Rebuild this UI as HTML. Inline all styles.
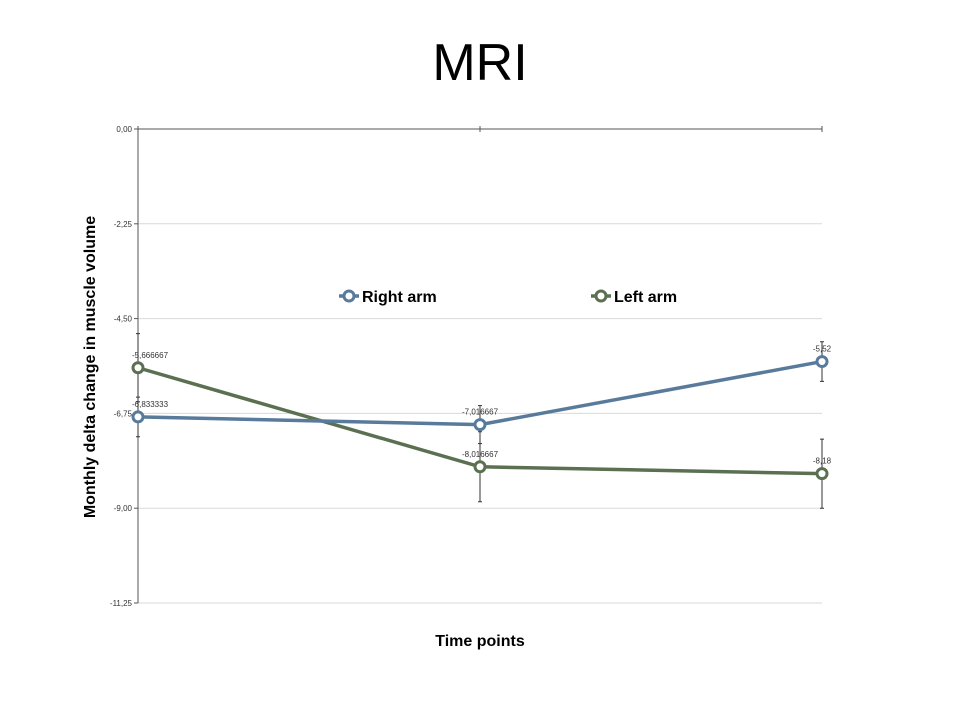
<!DOCTYPE html>
<html><head><meta charset="utf-8"><style>
body{margin:0;background:#fff;}
svg{display:block;font-family:"Liberation Sans",Arial,sans-serif;}
</style></head><body>
<svg width="960" height="720" id="chart">
<text x="480" y="80" text-anchor="middle" font-size="52">MRI</text>
<g id="grid"></g><g id="series"></g>
<text transform="translate(95,367) rotate(-90)" text-anchor="middle" font-size="16" font-weight="bold">Monthly delta change in muscle volume</text>
<text x="480" y="646" text-anchor="middle" font-size="16" font-weight="bold">Time points</text>
<g>
<g>
<line x1="339" y1="296" x2="359" y2="296" stroke="#587b9c" stroke-width="3.5"/>
<circle cx="349" cy="296" r="5" fill="#fff" stroke="#587b9c" stroke-width="3"/>
<text x="362" y="302" font-size="16" font-weight="bold">Right arm</text></g>
<g>
<line x1="591" y1="296" x2="611" y2="296" stroke="#5a7050" stroke-width="3.5"/>
<circle cx="601" cy="296" r="5" fill="#fff" stroke="#5a7050" stroke-width="3"/>
<text x="614" y="302" font-size="16" font-weight="bold">Left arm</text></g>
</g>
</svg>
<script>
const categories=["T1","T2","T3"];
const rightArm=[-6.833333,-7.016667,-5.52];
const leftArm=[-5.666667,-8.016667,-8.18];
const rightErr=[0.47,0.45,0.47];
const leftErr=[0.81,0.83,0.82];
const rightLabels=["-6,833333","-7,016667","-5,52"];
const leftLabels=["-5,666667","-8,016667","-8,18"];
const yTicks=[0,-2.25,-4.5,-6.75,-9,-11.25];
const yTickLabels=["0,00","-2,25","-4,50","-6,75","-9,00","-11,25"];
const NS="http://www.w3.org/2000/svg";
const x0=138,x1=822,yTop=129,yBot=603,yMin=-11.25,yMax=0;
function xs(i){return x0+(x1-x0)*i/(categories.length-1);}
function ys(v){return yTop+(yMax-v)/(yMax-yMin)*(yBot-yTop);}
function mk(tag,attrs,parent){const e=document.createElementNS(NS,tag);for(const k in attrs)e.setAttribute(k,attrs[k]);parent.appendChild(e);return e;}
const grid=document.getElementById('grid'),ser=document.getElementById('series');
yTicks.forEach((t,i)=>{
  if(t!==0){const g=mk('line',{x1:x0,x2:x1,y1:ys(t),y2:ys(t),stroke:'#d9d9d9','stroke-width':1},grid);
  
  }
  mk('line',{x1:x0-4,x2:x0,y1:ys(t),y2:ys(t),stroke:'#555'},grid);
  const tx=mk('text',{x:x0-6,y:ys(t)+3,'text-anchor':'end','font-size':8,fill:'#333'},grid);
  tx.textContent=yTickLabels[i];
  
  
});
const ya=mk('line',{x1:x0,x2:x0,y1:yTop,y2:yBot,stroke:'#555'},grid);


const xa=mk('line',{x1:x0,x2:x1,y1:ys(0),y2:ys(0),stroke:'#555'},grid);


categories.forEach((c,i)=>{mk('line',{x1:xs(i),x2:xs(i),y1:ys(0)-3,y2:ys(0)+3,stroke:'#555'},grid);});
function drawSeries(vals,errs,labels,color,name){
  const g=mk('g',{},ser);
  
  
  vals.forEach((v,i)=>{
    const e=mk('path',{d:`M${xs(i)-2},${ys(v+errs[i])}h4M${xs(i)},${ys(v+errs[i])}V${ys(v-errs[i])}M${xs(i)-2},${ys(v-errs[i])}h4`,stroke:'#333','stroke-width':1,fill:'none'},g);
    
    
  });
  const pl=mk('polyline',{points:vals.map((v,i)=>xs(i)+','+ys(v)).join(' '),fill:'none',stroke:color,'stroke-width':3.5},g);
  
  
  vals.forEach((v,i)=>{
    const c=mk('circle',{cx:xs(i),cy:ys(v),r:5,fill:'#fff',stroke:color,'stroke-width':3},g);
    
    
    const t=mk('text',{x:xs(i)+(i===0?12:0),y:ys(v)-10,'text-anchor':'middle','font-size':8,fill:'#333'},g);
    t.textContent=labels[i];
    
    
  });
}
drawSeries(leftArm,leftErr,leftLabels,'#5a7050','left-arm-series');
drawSeries(rightArm,rightErr,rightLabels,'#587b9c','right-arm-series');
</script>
</body></html>
